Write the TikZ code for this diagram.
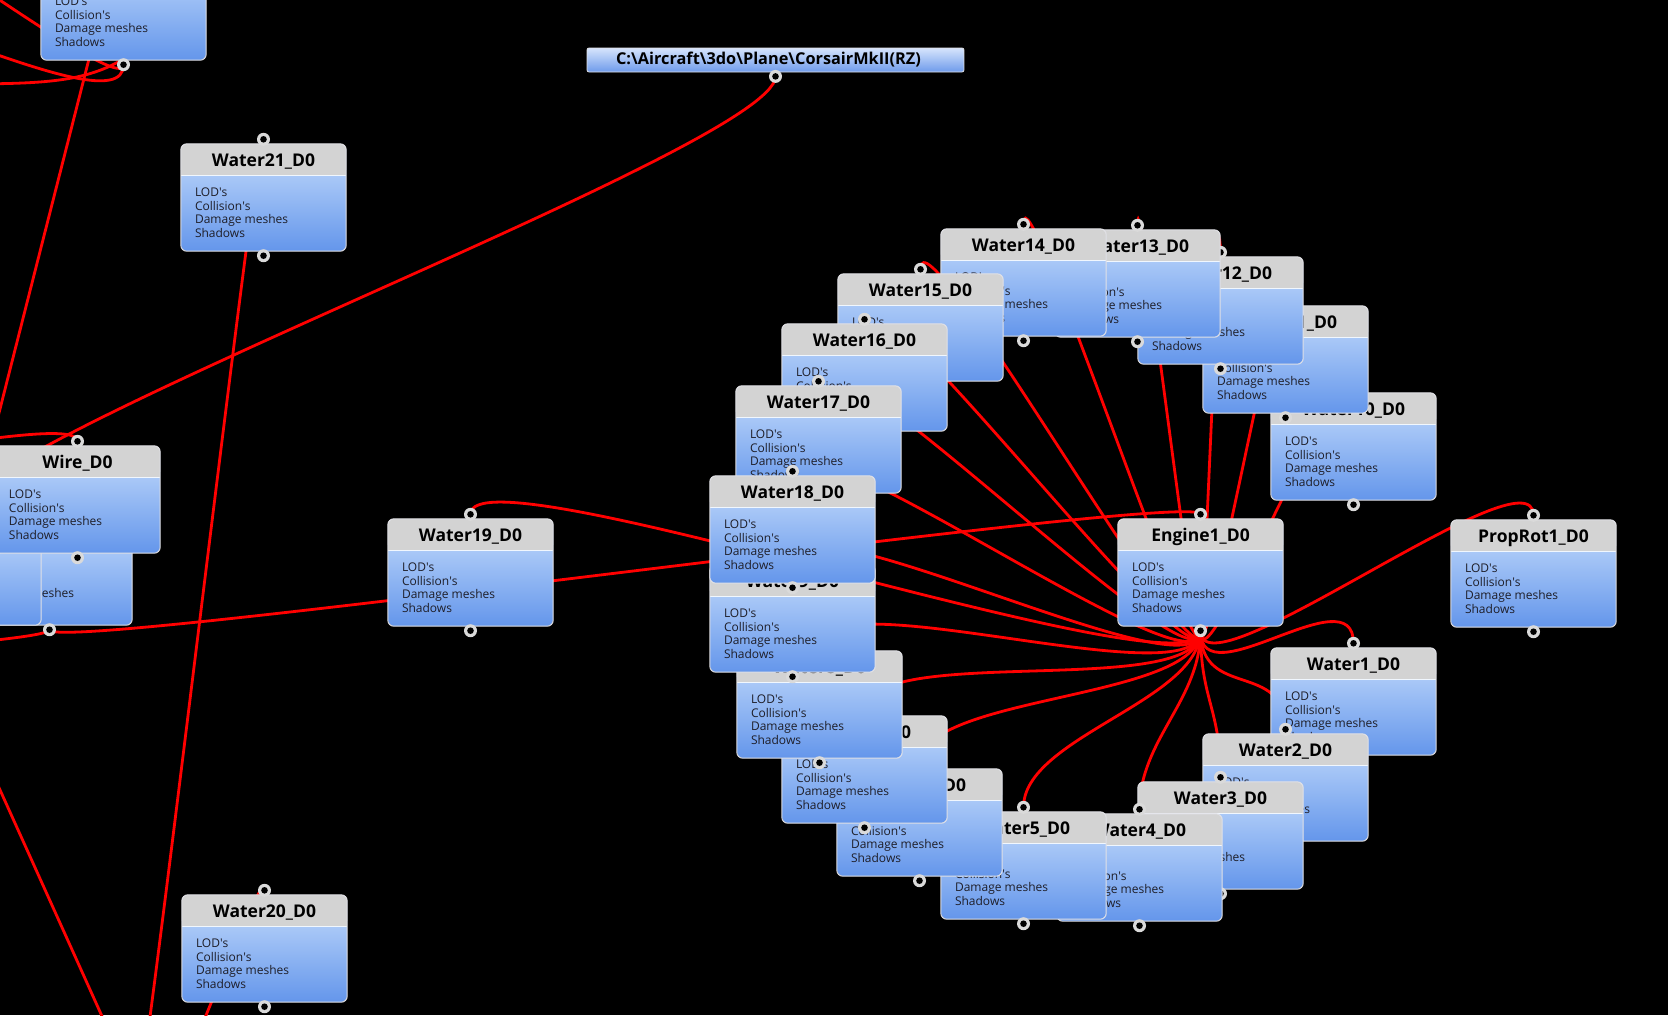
\documentclass[tikz,border=0pt]{standalone}
\usepackage{fontspec}
\setmainfont{Open Sans}
\usetikzlibrary{calc,backgrounds}
\pgfdeclarelayer{bg}
\pgfsetlayers{bg,background,main}

\definecolor{hdrgrey}{RGB}{211,211,211}
\definecolor{bodytop}{RGB}{198,221,252}
\definecolor{bodybot}{RGB}{100,150,235}
\definecolor{roottop}{RGB}{214,228,252}
\definecolor{rootbot}{RGB}{110,155,235}
\definecolor{edgegrey}{RGB}{225,225,230}
\definecolor{ringgrey}{RGB}{218,218,218}
\definecolor{wirered}{RGB}{255,0,0}
\definecolor{txtgrey}{RGB}{30,30,40}

\tikzset{
  wire/.style={draw=wirered,line width=2.8pt,line cap=round},
  wbox/.style={rectangle,rounded corners=6pt,minimum width=165pt,minimum height=107pt,
    inner sep=0pt,top color=bodytop,bottom color=bodybot},
  rootbox/.style={rectangle,rounded corners=2pt,minimum width=377pt,minimum height=24pt,
    inner sep=0pt,top color=roottop,bottom color=rootbot,draw=edgegrey,line width=0.8pt},
  roottxt/.style={inner sep=0pt,font=\fontsize{16.3}{18}\selectfont\bfseries},
  titletxt/.style={anchor=base,inner sep=0pt,font=\fontsize{17.5}{20}\selectfont\bfseries},
  bodytxt/.style={anchor=base west,inner sep=0pt,text=txtgrey,font=\fontsize{12}{14}\selectfont}
}

% connector dot
\newcommand{\plug}[1]{\fill[ringgrey] (#1) circle (6.5pt); \fill[black] (#1) circle (3.3pt);}
% mesh node: name, left, top, title
\newcommand{\meshnode}[4]{%
  \node[wbox] (#1) at (#2+82.5,#3+53.5) {};
  \fill[hdrgrey,rounded corners=6pt] (#1.north west) rectangle ([yshift=-31pt]#1.north east);
  \fill[hdrgrey] ([yshift=-18pt]#1.north west) rectangle ([yshift=-31pt]#1.north east);
  \draw[white!75!bodytop,line width=1.2pt] ([yshift=-31.5pt]#1.north west) -- ([yshift=-31.5pt]#1.north east);
  \draw[edgegrey,line width=1pt,rounded corners=6pt] (#1.north west) rectangle (#1.south east);
  \node[titletxt] at ([yshift=-22.7pt]#1.north) {#4};
  \foreach \txt [count=\i from 0] in {LOD\textquotesingle s,Collision\textquotesingle s,Damage meshes,Shadows}
    \node[bodytxt] at ([xshift=14pt,yshift=-53pt-13.4pt*\i]#1.north west) {\txt};
  \coordinate (#1-in) at ([yshift=4.5pt]#1.north);
  \coordinate (#1-out) at ([yshift=-4.5pt]#1.south);
  \plug{#1-in}\plug{#1-out}%
}
% red link, output to input
\newcommand{\link}[3][70]{\draw[wire] (#2) .. controls +(0,#1) and +(0,-#1) .. (#3);}

\begin{document}
\begin{tikzpicture}[x=1pt,y=-1pt]
\useasboundingbox (0,0) rectangle (1668,1015);
\begin{pgfonlayer}{bg}
  \fill[black] (0,0) rectangle (1668,1015);
\end{pgfonlayer}

% left column
\meshnode{mid-mesh}{-33}{518}{}
\meshnode{far-mesh}{-124}{518}{}
\meshnode{wire}{-5}{446}{Wire\_D0}
\meshnode{top-mesh}{41}{-47}{}
\meshnode{water21}{181}{144}{Water21\_D0}
\meshnode{water20}{182}{895}{Water20\_D0}
\meshnode{water19}{388}{519}{Water19\_D0}

% ring round the engine
\meshnode{water1}{1271}{648}{Water1\_D0}
\meshnode{water2}{1203}{734}{Water2\_D0}
\meshnode{water3}{1138}{782}{Water3\_D0}
\meshnode{water4}{1057}{814}{Water4\_D0}
\meshnode{water5}{941}{812}{Water5\_D0}
\meshnode{water6}{837}{769}{Water6\_D0}
\meshnode{water7}{782}{716}{Water7\_D0}
\meshnode{water8}{737}{651}{Water8\_D0}
\meshnode{water9}{710}{565}{Water9\_D0}
\meshnode{water10}{1271}{393}{Water10\_D0}
\meshnode{water11}{1203}{306}{Water11\_D0}
\meshnode{water12}{1138}{257}{Water12\_D0}
\meshnode{water13}{1055}{230}{Water13\_D0}
\meshnode{water14}{941}{229}{Water14\_D0}
\meshnode{water15}{838}{274}{Water15\_D0}
\meshnode{water16}{782}{324}{Water16\_D0}
\meshnode{water17}{736}{386}{Water17\_D0}
\meshnode{water18}{710}{476}{Water18\_D0}
\meshnode{engine}{1118}{519}{Engine1\_D0}
\meshnode{proprot}{1451}{520}{PropRot1\_D0}

% root
\node[rootbox] (root) at (775.5,60) {};
\node[roottxt] (root-label) at ([xshift=-7pt,yshift=0.5pt]root.center) {C:\textbackslash Aircraft\textbackslash 3do\textbackslash Plane\textbackslash CorsairMkII(RZ)};
\coordinate (root-out) at ([yshift=-4pt]root.south);
\plug{root-out}

% free ends outside the view
\coordinate (off-a) at (-200,20);
\coordinate (off-b) at (-250,-150);
\coordinate (off-c) at (-60,84);
\coordinate (off-d) at (200,-10);
\coordinate (off-up) at (131,-110);
\coordinate (off-low) at (-40,570);
\coordinate (off-left) at (-200,450);
\coordinate (off-mid) at (-400,680);
\coordinate (off-side) at (-80,610);
\coordinate (off-down1) at (135,1110);
\coordinate (off-down2) at (160,1110);
\coordinate (off-down3) at (150,1125);

\begin{pgfonlayer}{background}
  \link{root-out}{far-mesh-in}
  \link[8]{off-up}{off-low}
  \link[30]{off-left}{wire-in}
  \link{top-mesh-out}{off-a}
  \link[40]{top-mesh-out}{off-b}
  \draw[wire] (off-c) .. controls (90,84) and (115,84) .. (off-d);
  \link{off-down1}{water21-in}
  \link[35]{off-down2}{water20-in}
  \link[5]{off-side}{off-down3}
  \link[15]{mid-mesh-out}{off-mid}
  \link[25]{mid-mesh-out}{engine-in}
  \foreach \i in {1,...,19} {\link{engine-out}{water\i-in}}
  \link{engine-out}{proprot-in}
\end{pgfonlayer}
\end{tikzpicture}
\end{document}
